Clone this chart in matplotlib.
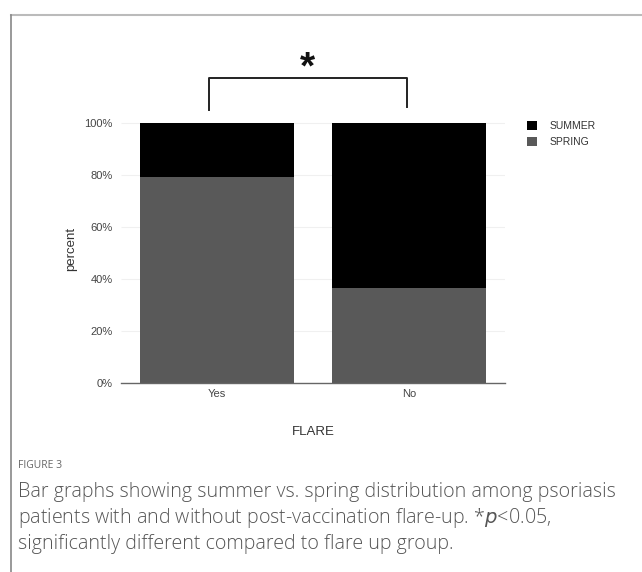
import matplotlib.pyplot as plt
from matplotlib.ticker import PercentFormatter

# share of each season within each flare group
flare = ['Yes', 'No']
spring = [0.79, 0.364]
summer = [1 - s for s in spring]
yticks = [0, 0.2, 0.4, 0.6, 0.8, 1.0]

plt.rcParams['font.family'] = ['Liberation Sans', 'DejaVu Sans']

fig = plt.figure(figsize=(6.42, 5.72), dpi=100)
ax = fig.add_axes([121/642, 1 - 383/572, 384/642, 268/572])

x = range(1, len(flare) + 1)
ax.bar(x, spring, width=0.8, color='#595959', label='SPRING', zorder=2)
ax.bar(x, summer, bottom=spring, width=0.8, color='black', label='SUMMER', zorder=2)

ax.set_xlim(0.5, 2.5)
ax.set_ylim(0, 1.03)
ax.set_xticks(list(x))
ax.set_xticklabels(flare)
ax.set_yticks(yticks)
ax.yaxis.set_major_formatter(PercentFormatter(1.0, decimals=0))
ax.grid(axis='y', color='#f0f0f0', linewidth=0.8, zorder=0)
for s in ['top', 'right', 'left']:
    ax.spines[s].set_visible(False)
ax.spines['bottom'].set_color('#666666')
ax.spines['bottom'].set_linewidth(1.0)
ax.tick_params(axis='x', length=0, pad=4, labelsize=8, labelcolor='#444444')
ax.tick_params(axis='y', length=4, color='white', pad=2, labelsize=8, labelcolor='#444444')
ax.yaxis.get_major_ticks()[0].tick1line.set_color('#666666')
ax.set_ylabel('percent', fontsize=9.5, color='#333333', labelpad=5)
ax.set_xlabel('FLARE', fontsize=9.5, color='#333333', labelpad=20)

# legend, summer first
h, l = ax.get_legend_handles_labels()
fig.legend(h[::-1], l[::-1], loc='upper left', bbox_to_anchor=(518/642, 1 - 112/572),
           frameon=False, fontsize=7.5, handlelength=0.9, handleheight=0.9,
           handletextpad=1.2, labelspacing=0.55, labelcolor='#333333')

# significance bracket
ax.plot([1 - 0.04, 1 - 0.04, 2 - 0.01, 2 - 0.01], [1.05, 1.172, 1.172, 1.06],
        color='#222222', linewidth=1.4, clip_on=False)
ax.text(1.47, 1.21, '*', ha='center', va='center', fontsize=28, fontweight='bold',
        color='#111111', clip_on=False)

# frame lines
fig.add_artist(plt.Line2D([11/642, 1], [1 - 15/572] * 2, color='#bbbbbb', linewidth=1.5))
fig.add_artist(plt.Line2D([11/642] * 2, [0, 1 - 15/572], color='#888888', linewidth=1.2))

fig.text(18/642, 1 - 466/572, 'FIGURE 3', fontsize=7.5, color='#666666',
         family='Open Sans', va='center')
caption = ('Bar graphs showing summer vs. spring distribution among psoriasis\n'
           'patients with and without post-vaccination flare-up. *$p$<0.05,\n'
           'significantly different compared to flare up group.')
fig.text(18/642, 1 - 482/572, caption, fontsize=14.1, color='#555555',
         family='Open Sans', fontweight='light', va='top', linespacing=1.24)

fig.savefig('out.png', dpi=100)
